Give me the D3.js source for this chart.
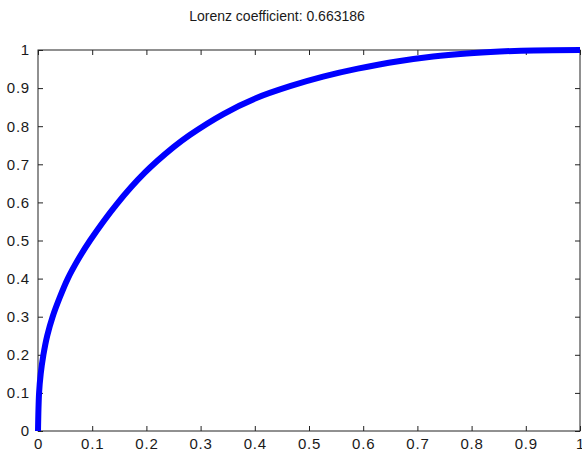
<!DOCTYPE html>
<html>
<head>
<meta charset="utf-8">
<script src="https://cdn.jsdelivr.net/npm/d3@7"></script>
<style>
  html, body { margin: 0; padding: 0; background: #fff; }
  svg { display: block; }
  text { font-family: "Liberation Sans", Arial, sans-serif; fill: #1a1a1a; }
</style>
</head>
<body>
<svg id="chart" width="582" height="452"></svg>
<script>
const titleText = "Lorenz coefficient: 0.663186";
const xValues = [0, 0.002, 0.005, 0.010, 0.017, 0.027, 0.040, 0.055, 0.074, 0.096, 0.145, 0.197, 0.25, 0.28, 0.342, 0.403, 0.465, 0.526, 0.59, 0.668, 0.729, 0.791, 0.852, 0.915, 1];
const yValues = [0, 0.1, 0.15, 0.2, 0.25, 0.3, 0.35, 0.4, 0.45, 0.5, 0.595, 0.678, 0.745, 0.777, 0.832, 0.874, 0.905, 0.93, 0.951, 0.971, 0.983, 0.991, 0.996, 0.999, 1];
const xTicks = [0, 0.1, 0.2, 0.3, 0.4, 0.5, 0.6, 0.7, 0.8, 0.9, 1];
const yTicks = [0, 0.1, 0.2, 0.3, 0.4, 0.5, 0.6, 0.7, 0.8, 0.9, 1];

const svg = d3.select("#chart");
const L = 38, R = 580, T = 50, B = 431;
const x = d3.scaleLinear().domain([0, 1]).range([L, R]);
const y = d3.scaleLinear().domain([0, 1]).range([B, T]);
const fmt = d => d === 0 ? "0" : d === 1 ? "1" : d3.format(".1f")(d);

// Title
svg.append("text")
  .attr("x", 277).attr("y", 21)
  .attr("text-anchor", "middle")
  .style("font-size", "14px")
  .text(titleText);

const axisStyle = g => {
  g.select(".domain").remove();
  g.selectAll(".tick line").attr("stroke", "#222").attr("stroke-width", 1);
  g.selectAll(".tick text").style("font-size", "15px").style("letter-spacing", "0.8px").attr("fill", "#1a1a1a");
};

// Bottom axis (ticks inward)
svg.append("g")
  .attr("transform", `translate(0,${B})`)
  .call(d3.axisBottom(x).tickValues(xTicks).tickFormat(fmt).tickSizeInner(-5).tickSizeOuter(0).tickPadding(7))
  .call(axisStyle);

// Top axis ticks
svg.append("g")
  .attr("transform", `translate(0,${T})`)
  .call(d3.axisTop(x).tickValues(xTicks).tickFormat("").tickSizeInner(-5).tickSizeOuter(0))
  .call(axisStyle);

// Left axis
svg.append("g")
  .attr("transform", `translate(${L},0)`)
  .call(d3.axisLeft(y).tickValues(yTicks).tickFormat(fmt).tickSizeInner(-5).tickSizeOuter(0).tickPadding(8))
  .call(axisStyle);

// Right axis ticks
svg.append("g")
  .attr("transform", `translate(${R},0)`)
  .call(d3.axisRight(y).tickValues(yTicks).tickFormat("").tickSizeInner(-5).tickSizeOuter(0))
  .call(axisStyle);

// Box
svg.append("rect")
  .attr("x", L).attr("y", T)
  .attr("width", R - L).attr("height", B - T)
  .attr("fill", "none").attr("stroke", "#222").attr("stroke-width", 1);

// Curve
const pts = xValues.map((v, i) => [v, yValues[i]]);
svg.append("path")
  .datum(pts)
  .attr("fill", "none")
  .attr("stroke", "#0000ff")
  .attr("stroke-width", 6)
  .attr("stroke-linejoin", "round")
  .attr("d", d3.line().x(d => x(d[0])).y(d => y(d[1])).curve(d3.curveCatmullRom.alpha(0.5)));
</script>
</body>
</html>
